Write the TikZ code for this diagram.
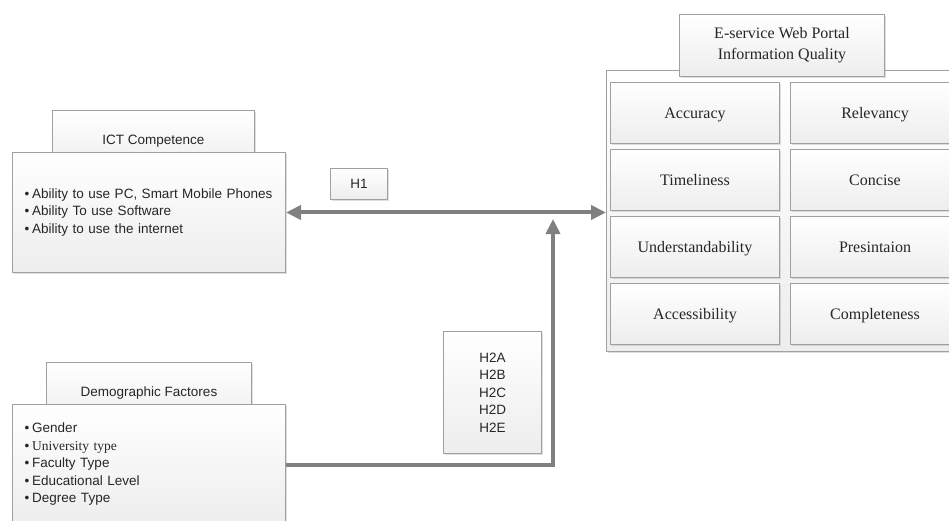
\documentclass[tikz,border=0pt]{standalone}
\usepackage{fontspec}
\setmainfont{Liberation Serif}
\setsansfont{Liberation Sans}
\usetikzlibrary{arrows.meta,calc,positioning,shadows}
\definecolor{BoxLine}{RGB}{160,160,160}
\definecolor{LinkGray}{RGB}{128,128,128}
\definecolor{InkGray}{RGB}{38,38,38}
\newcommand{\itm}{\hspace*{2pt}\textbullet\hspace{3pt}}

\begin{document}
\begin{tikzpicture}[x=1pt,y=-1pt,>={Triangle[length=15pt,width=14pt]},
    panel/.style={draw=BoxLine,line width=1pt,top color=white,bottom color=gray!14,
      drop shadow={shadow xshift=1.5pt,shadow yshift=-1.5pt,opacity=0.25},
      anchor=north west,inner sep=0pt,text=InkGray},
    sanstext/.style={font=\sffamily\fontsize{13.5}{17.5}\selectfont},
    serftext/.style={font=\rmfamily\fontsize{16}{21}\selectfont},
    listbox/.style={panel,sanstext,minimum width=273pt,minimum height=120pt,text width=253pt,
      align=left,inner xsep=10pt},
    cell/.style={panel,serftext,minimum width=169pt,minimum height=61pt,text height=11pt,text depth=0pt},
    link/.style={LinkGray,line width=4pt}]
  \useasboundingbox (0,0) rectangle (949,521);
  \clip (0,0) rectangle (949,521);

  % left side
  \node[panel,sanstext,minimum width=202pt,minimum height=62pt] (ictTitle) at (52,110) {ICT Competence};
  \node[listbox] (ict) at (12,152) {\itm Ability to use PC, Smart Mobile Phones\\
      \itm Ability To use Software\\
      \itm Ability to use the internet};
  \node[panel,sanstext,minimum width=205pt,minimum height=62pt] (demTitle) at (46,362) {Demographic Factores};
  \node[listbox] (dem) at (12,404) {\itm Gender\\
      \itm{\rmfamily University type}\\
      \itm Faculty Type\\
      \itm Educational Level\\
      \itm Degree Type};

  % hypotheses
  \node[panel,sanstext,minimum width=57pt,minimum height=31pt] (h1) at (330,168) {H1};
  \node[panel,sanstext,minimum width=98pt,minimum height=122pt,align=center] (h2) at (443,331)
    {H2A\\H2B\\H2C\\H2D\\H2E};

  % right side
  \node[panel,minimum width=356pt,minimum height=281pt] (iq) at (606,70) {};
  \node[panel,serftext,minimum width=205pt,minimum height=62pt,align=center] (iqTitle) at (679,14)
    {E-service Web Portal\\Information Quality};
  \foreach \txt [count=\i] in {Accuracy,Timeliness,Understandability,Accessibility}
    \node[cell] (left\i) at (610,82+67*\i-67) {\txt};
  \foreach \txt [count=\i] in {Relevancy,Concise,Presintaion,Completeness}
    \node[cell] (right\i) at (790,82+67*\i-67) {\txt};

  % links
  \coordinate (meet) at (553,219);
  \draw[link,<->] (ict.east) -- (ict.east -| iq.west);
  \draw[link,->] (dem.east) -| (meet);
\end{tikzpicture}
\end{document}
